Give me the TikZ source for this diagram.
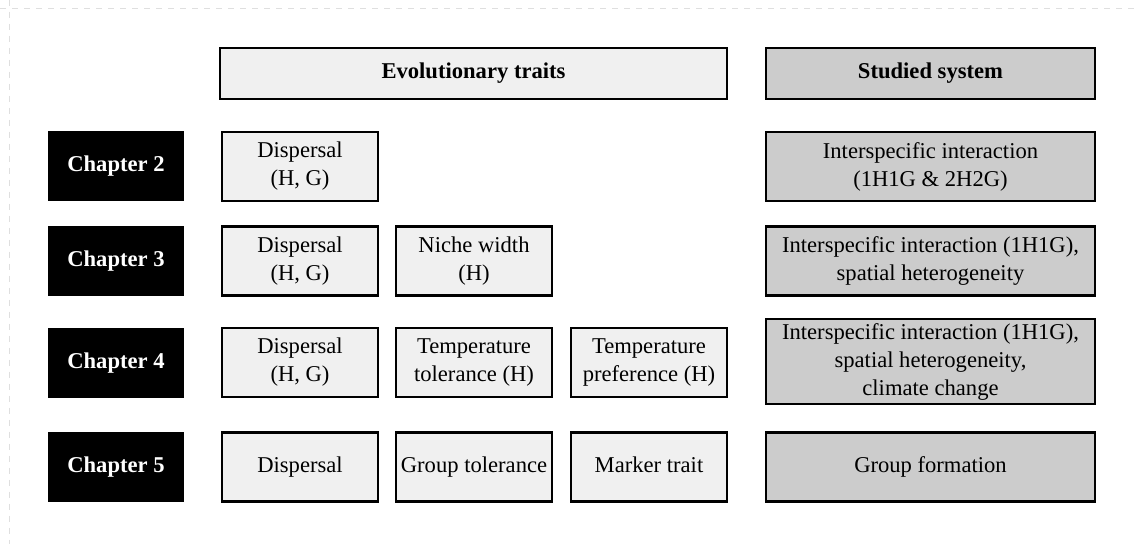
\documentclass[tikz,border=0pt]{standalone}
\usepackage{fontspec}
\setmainfont{Liberation Serif}
\usepackage{xcolor}
\definecolor{traitfill}{HTML}{F0F0F0}
\definecolor{systemfill}{HTML}{CCCCCC}
\newcommand*{\ColA}{300}
\newcommand*{\ColB}{474}
\newcommand*{\ColC}{649}
\newcommand*{\ColS}{930.5}

\begin{document}
\begin{tikzpicture}[x=0.5pt,y=-0.5pt,
    txt/.style={font=\fontsize{11.3}{14}\selectfont},
    box/.style={txt, draw, line width=1.2pt, align=center, inner sep=0pt},
    single/.style={text height=1.6ex, text depth=.45ex},
    chapter/.style={txt, fill=black, text=white, font=\fontsize{11.3}{14}\selectfont\bfseries,
        minimum width=68pt, minimum height=35pt, inner sep=0pt},
    trait/.style={box, fill=traitfill, minimum width=78pt, minimum height=34.5pt},
    system/.style={box, fill=systemfill, minimum width=164.5pt, minimum height=34.5pt},
    header/.style={box, single, font=\fontsize{11.3}{14}\selectfont\bfseries, minimum height=25.5pt}]
    \useasboundingbox (0,0) rectangle (1136,544);
    % faint frame of the page
    \draw[gray!25, dashed] (0,8) -- (1136,8);
    \draw[gray!25, dashed] (9,0) -- (9,544);

    % column heads
    \node[header, fill=traitfill, minimum width=253.5pt] (evo) at (473.5,73.5) {Evolutionary traits};
    \node[header, fill=systemfill, minimum width=164.5pt] (sys) at (\ColS,73.5) {Studied system};

    % chapters
    \foreach \n/\y in {2/166.5,3/261,4/363,5/467}
        \node[chapter, single] (ch\n) at (116,\y) {Chapter \n};

    % chapter 2
    \node[trait] (dispA) at (\ColA,166.5) {Dispersal\\(H, G)};
    \node[system] (sysA) at (\ColS,166.5) {Interspecific interaction\\(1H1G \& 2H2G)};

    % chapter 3
    \node[trait] (dispB) at (\ColA,261) {Dispersal\\(H, G)};
    \node[trait] (niche) at (\ColB,261) {Niche width\\(H)};
    \node[system] (sysB) at (\ColS,261) {Interspecific interaction (1H1G),\\spatial heterogeneity};

    % chapter 4
    \node[trait] (dispC) at (\ColA,362.5) {Dispersal\\(H, G)};
    \node[trait] (tol) at (\ColB,362.5) {Temperature\\tolerance (H)};
    \node[trait] (pref) at (\ColC,362.5) {Temperature\\preference (H)};
    \node[system, minimum height=42.5pt] (sysC) at (\ColS,361.5)
        {Interspecific interaction (1H1G),\\spatial heterogeneity,\\climate change};

    % chapter 5
    \node[trait, single] (dispD) at (\ColA,467) {Dispersal};
    \node[trait, single] (group) at (\ColB,467) {Group tolerance};
    \node[trait, single] (marker) at (\ColC,467) {Marker trait};
    \node[system, single] (sysD) at (\ColS,467) {Group formation};
\end{tikzpicture}
\end{document}
